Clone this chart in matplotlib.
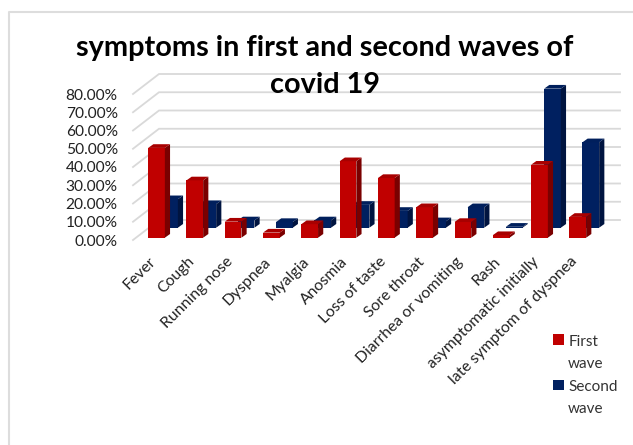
import matplotlib
matplotlib.use("Agg")
import matplotlib.pyplot as plt
from matplotlib.patches import Polygon, Patch, Rectangle
from matplotlib.legend_handler import HandlerPatch
from matplotlib.transforms import ScaledTranslation

plt.rcParams['font.family'] = ['Lato', 'DejaVu Sans']

categories = ["Fever", "Cough", "Running nose", "Dyspnea", "Myalgia", "Anosmia",
              "Loss of taste", "Sore throat", "Diarrhea or vomiting", "Rash",
              "asymptomatic initially", "late symptom of dyspnea"]
first_wave = [49.2, 31.4, 8.8, 2.8, 7.4, 41.9, 32.7, 16.7, 8.6, 1.4, 40.0, 11.4]
second_wave = [15.6, 12.9, 4.0, 3.1, 4.0, 12.5, 9.2, 3.5, 11.2, 0.5, 76.2, 46.8]
y_ticks = [0, 10, 20, 30, 40, 50, 60, 70, 80]
title = "symptoms in first and second waves of\ncovid 19"

W, H = 633, 445
fig = plt.figure(figsize=(W / 100, H / 100), dpi=100, facecolor='white')
L, R, T, B = 133, 620, 94, 240
ax = fig.add_axes([L / W, 1 - B / H, (R - L) / W, (B - T) / H])
ax.patch.set_visible(False)
xpx = 38.3
ypx = 1.825
ax.set_xlim((L - 156.5) / xpx, (R - 156.5) / xpx)
ax.set_ylim(0, 80)
for s in ax.spines.values():
    s.set_visible(False)

# outer chart frame: top and left edges, right edge runs past the picture
fig.add_artist(plt.Line2D([9 / W, 9 / W, 1], [0, 1 - 12 / H, 1 - 12 / H],
                          color='#DDDDDD', lw=1.5, transform=fig.transFigure))

wall_dx = 26 / xpx
wall_dy = 20 / ypx
x0, x1 = ax.get_xlim()
grid = '#D9D9D9'
for v in y_ticks:
    ax.plot([x0, x0 + wall_dx, x1], [v, v + wall_dy, v + wall_dy], color=grid, lw=1.3,
            clip_on=False, zorder=1, solid_joinstyle='miter')


def bars(values, xoff, yoff, front, top, side, z):
    w = 16.7 / xpx
    dx = 5.2 / xpx
    dy = 3.7 / ypx
    for i, v in enumerate(values):
        xl = i + xoff - w / 2
        xr = xl + w
        yb = yoff
        yt = yoff + v
        ax.bar(i + xoff, v, width=w, bottom=yb, color=front, zorder=z, clip_on=False)
        ax.add_patch(Polygon([(xr, yb), (xr + dx, yb + dy), (xr + dx, yt + dy), (xr, yt)],
                             closed=True, facecolor=side, edgecolor='none', zorder=z, clip_on=False))
        ax.add_patch(Polygon([(xl, yt), (xr, yt), (xr + dx, yt + dy), (xl + dx, yt + dy)],
                             closed=True, facecolor=top, edgecolor='none', zorder=z, clip_on=False))


xs = list(range(len(categories)))
bars(second_wave, 13 / xpx, 12.3 / ypx, '#002060', '#001F5C', '#001440', 2)
bars(first_wave, 0, 2.3 / ypx, '#C00000', '#A80000', '#7A0000', 3)

ax.set_yticks(y_ticks)
ax.set_yticklabels([f"{v:.2f}%" for v in y_ticks], fontsize=11.2, color='#222222')
ax.tick_params(axis='y', length=0, pad=11)
ax.set_xticks(xs)
ax.set_xticklabels(categories, rotation=45, ha='right', va='top', rotation_mode='anchor',
                   fontsize=11.3, color='#222222')
ax.tick_params(axis='x', length=0, pad=10.5)
shift = ScaledTranslation(-0.075, 0, fig.dpi_scale_trans)
for lab in ax.get_xticklabels():
    lab.set_transform(lab.get_transform() + shift)

fig.text(325 / W, 1 - 35 / H, title, ha='center', va='top', fontsize=20.8, fontweight='bold',
         color='black', linespacing=1.52)


def top_square(legend, orig_handle, xdescent, ydescent, width, height, fontsize):
    return Rectangle((-xdescent, -ydescent + 9.5), width, height)


handles = [Patch(facecolor='#C00000', label='First\nwave'),
           Patch(facecolor='#002060', label='Second\nwave')]
leg = fig.legend(handles=handles, loc='upper left', bbox_to_anchor=(553 / W, 1 - 335 / H),
                 frameon=False, fontsize=11, handlelength=0.72, handleheight=0.72,
                 handletextpad=0.27, labelspacing=0.6, labelcolor='#333333', borderpad=0,
                 borderaxespad=0, handler_map={Patch: HandlerPatch(patch_func=top_square)})
for t in leg.get_texts():
    t.set_linespacing(1.72)

fig.savefig("out.png", dpi=100)
